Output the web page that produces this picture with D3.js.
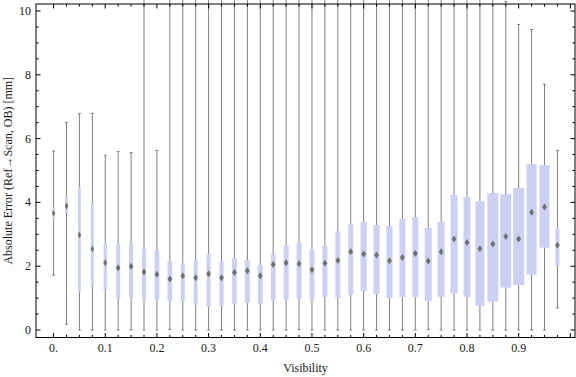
<!DOCTYPE html>
<html>
<head>
<meta charset="utf-8">
<script src="https://cdn.jsdelivr.net/npm/d3@7"></script>
<style>
  body { margin: 0; background: #fff; }
  svg { display: block; font-family: "Liberation Serif", "DejaVu Serif", serif; }
</style>
</head>
<body>
<div id="chart"></div>
<script>
// Visibility bins (box centres)
const visibility = [0, 0.025, 0.05, 0.075, 0.1, 0.125, 0.15, 0.175, 0.2, 0.225,
  0.25, 0.275, 0.3, 0.325, 0.35, 0.375, 0.4, 0.425, 0.45, 0.475,
  0.5, 0.525, 0.55, 0.575, 0.6, 0.625, 0.65, 0.675, 0.7, 0.725,
  0.75, 0.775, 0.8, 0.825, 0.85, 0.875, 0.9, 0.925, 0.95, 0.975];

// box-whisker statistics, absolute error in mm
const whiskerLow = [1.72, 0.18, 0, 0, 0, 0, 0, 0, 0, 0.02,
  0, 0, 0, 0, 0, 0, 0, 0, 0, 0.02,
  0, 0, 0, 0, 0, 0, 0, 0, 0, 0.02,
  0, 0, 0, 0, 0, 0, 0, 0, 0, 0.69];
const q1 = [3.46, 3.67, 1.19, 1.39, 1.25, 0.98, 1.01, 0.97, 0.94, 0.91,
  0.89, 0.78, 0.72, 0.75, 0.82, 0.85, 0.82, 0.92, 0.94, 0.98,
  0.94, 1.03, 1.00, 1.10, 1.22, 1.13, 1.00, 1.03, 1.03, 0.91,
  1.04, 1.14, 1.04, 0.76, 0.89, 1.33, 1.41, 1.73, 2.58, 2.02];
const median = [3.66, 3.89, 2.98, 2.54, 2.11, 1.95, 2.00, 1.82, 1.75, 1.60,
  1.70, 1.64, 1.76, 1.64, 1.80, 1.86, 1.70, 2.05, 2.11, 2.08,
  1.89, 2.09, 2.18, 2.45, 2.38, 2.35, 2.17, 2.27, 2.40, 2.16,
  2.45, 2.85, 2.74, 2.55, 2.70, 2.93, 2.85, 3.69, 3.86, 2.66];
const q3 = [3.86, 4.20, 4.48, 3.98, 2.73, 2.70, 2.73, 2.54, 2.48, 2.16,
  2.10, 2.19, 2.38, 2.16, 2.26, 2.19, 2.04, 2.38, 2.63, 2.73,
  2.51, 2.63, 3.10, 3.32, 3.39, 3.29, 3.26, 3.48, 3.54, 3.20,
  3.39, 4.23, 4.17, 4.04, 4.29, 4.26, 4.45, 5.20, 5.17, 3.20];
const whiskerHigh = [5.61, 6.51, 6.79, 6.79, 5.48, 5.60, 5.56, 10.6, 5.63, 10.6,
  10.6, 10.6, 10.6, 10.6, 10.6, 10.6, 10.6, 10.6, 10.6, 10.6,
  10.6, 10.6, 10.6, 10.6, 10.6, 10.6, 10.6, 10.6, 10.6, 10.6,
  10.6, 10.6, 10.6, 10.6, 10.6, 10.30, 9.58, 9.42, 7.70, 5.63];
// relative box width (sample weight)
const weight = [0.21, 0.27, 0.25, 0.27, 0.30, 0.36, 0.36, 0.36, 0.43, 0.43,
  0.36, 0.36, 0.36, 0.39, 0.43, 0.45, 0.45, 0.43, 0.45, 0.45,
  0.45, 0.45, 0.45, 0.45, 0.57, 0.55, 0.55, 0.55, 0.55, 0.64,
  0.64, 0.64, 0.64, 0.82, 1.00, 1.00, 1.00, 0.91, 0.91, 0.36];

const xMajor = [0, 0.1, 0.2, 0.3, 0.4, 0.5, 0.6, 0.7, 0.8, 0.9];
const yMajor = [0, 2, 4, 6, 8, 10];

const data = visibility.map((v, i) => ({
  v: v, lo: whiskerLow[i], q1: q1[i], med: median[i], q3: q3[i], hi: whiskerHigh[i], w: weight[i]
}));

const W = 576, H = 377;
const frame = { left: 36, right: 575, top: 4, bottom: 337.5 };

const svg = d3.select("#chart").append("svg")
  .attr("width", W)
  .attr("height", H);

const x = d3.scaleLinear().domain([-0.034, 1.009]).range([frame.left, frame.right]);
const y = d3.scaleLinear().domain([-0.235, 10.22]).range([frame.bottom, frame.top]);
const boxW = d3.scaleLinear().domain([0, 1]).range([0, 11]);

// whiskers
const marks = svg.append("g");
marks.selectAll(".whisker")
  .data(data)
  .enter().append("line")
  .attr("x1", d => x(d.v)).attr("x2", d => x(d.v))
  .attr("y1", d => y(d.lo)).attr("y2", d => y(d.hi))
  .attr("stroke", "#808080")
  .attr("stroke-width", 1);

// caps
["lo", "hi"].forEach(k => {
  marks.selectAll(".cap-" + k)
    .data(data)
    .enter().append("line")
    .attr("x1", d => x(d.v) - 1.5).attr("x2", d => x(d.v) + 1.5)
    .attr("y1", d => y(d[k])).attr("y2", d => y(d[k]))
    .attr("stroke", "#808080")
    .attr("stroke-width", 1);
});

// boxes
marks.selectAll(".box")
  .data(data)
  .enter().append("rect")
  .attr("x", d => x(d.v) - boxW(d.w) / 2)
  .attr("width", d => boxW(d.w))
  .attr("y", d => y(d.q3))
  .attr("height", d => y(d.q1) - y(d.q3))
  .attr("fill", "#cbd1f5");

// median diamonds
marks.selectAll(".median")
  .data(data)
  .enter().append("path")
  .attr("d", d => {
    const cx = x(d.v), cy = y(d.med);
    const hw = Math.min(2.4, boxW(d.w) / 2 + 0.3), hh = 3.5;
    return `M${cx},${cy - hh}L${cx + hw},${cy}L${cx},${cy + hh}L${cx - hw},${cy}Z`;
  })
  .attr("fill", "#707070");

// frame
svg.append("rect")
  .attr("x", frame.left).attr("y", frame.top)
  .attr("width", frame.right - frame.left)
  .attr("height", frame.bottom - frame.top)
  .attr("fill", "none")
  .attr("stroke", "#000")
  .attr("stroke-width", 1);

// ticks, mirrored on all four sides
const xMinor = d3.range(0, 1.0001, 0.025);
const yMinor = d3.range(0, 10.0001, 0.5);
const isMajorX = t => Math.abs(t * 10 - Math.round(t * 10)) < 1e-6;
const isMajorY = t => Math.abs(t / 2 - Math.round(t / 2)) < 1e-6;
const ticks = svg.append("g").attr("stroke", "#000").attr("stroke-width", 1);

xMinor.forEach(t => {
  const len = isMajorX(t) ? 4.5 : 2.6;
  const px = x(t);
  ticks.append("line").attr("x1", px).attr("x2", px).attr("y1", frame.bottom).attr("y2", frame.bottom - len);
  ticks.append("line").attr("x1", px).attr("x2", px).attr("y1", frame.top).attr("y2", frame.top + len);
});
yMinor.forEach(t => {
  const len = isMajorY(t) ? 4.5 : 2.6;
  const py = y(t);
  ticks.append("line").attr("y1", py).attr("y2", py).attr("x1", frame.left).attr("x2", frame.left + len);
  ticks.append("line").attr("y1", py).attr("y2", py).attr("x1", frame.right).attr("x2", frame.right - len);
});

// tick labels
svg.append("g").selectAll("text")
  .data(xMajor)
  .enter().append("text")
  .attr("x", d => x(d))
  .attr("y", 352)
  .attr("text-anchor", "middle")
  .attr("font-size", 12)
  .attr("fill", "#1a1a1a")
  .text(d => d === 0 ? "0." : d3.format(".1f")(d));

svg.append("g").selectAll("text")
  .data(yMajor)
  .enter().append("text")
  .attr("x", 31)
  .attr("y", d => y(d) + 4)
  .attr("text-anchor", "end")
  .attr("font-size", 12)
  .attr("fill", "#1a1a1a")
  .text(d => d);

// axis labels
svg.append("text")
  .attr("x", (frame.left + frame.right) / 2)
  .attr("y", 372)
  .attr("text-anchor", "middle")
  .attr("font-size", 12)
  .attr("fill", "#1a1a1a")
  .text("Visibility");

svg.append("text")
  .attr("transform", `translate(12, ${(frame.top + frame.bottom) / 2}) rotate(-90)`)
  .attr("text-anchor", "middle")
  .attr("font-size", 12)
  .attr("fill", "#1a1a1a")
  .text("Absolute Error (Ref→Scan, OB) [mm]");
</script>
</body>
</html>
